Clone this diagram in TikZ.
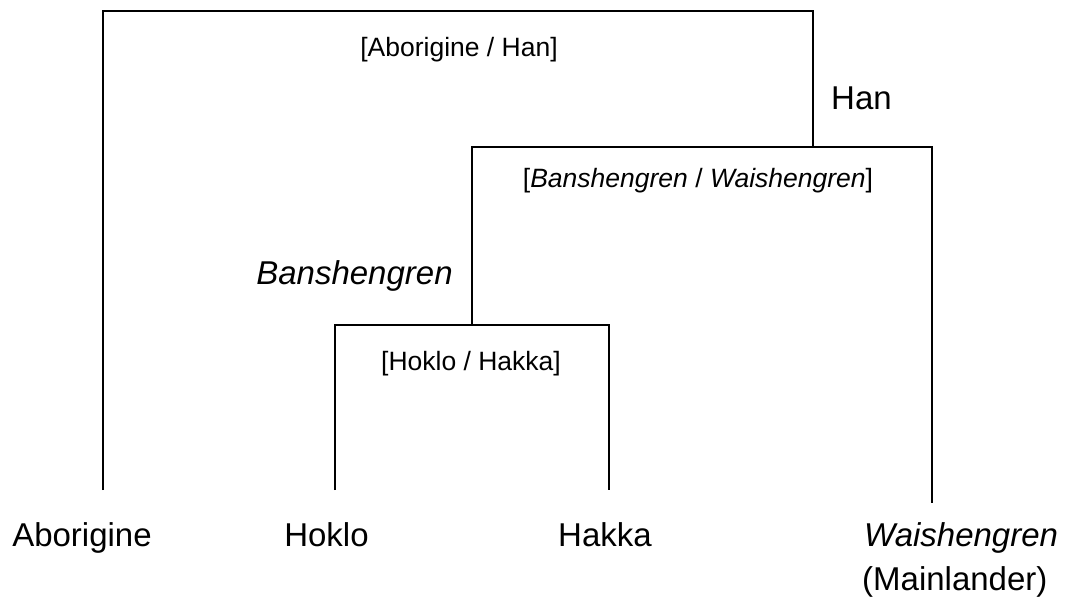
\documentclass[tikz,border=0pt]{standalone}
\usepackage{fontspec}
\setmainfont{Liberation Sans}
\begin{document}
\begin{tikzpicture}[x=1pt,y=-1pt,
  br/.style={line width=2pt},
  lab/.style={anchor=base,inner sep=0pt,font=\fontsize{26.5}{30}\selectfont},
  leaf/.style={anchor=base,inner sep=0pt,font=\fontsize{33}{38}\selectfont}]
\useasboundingbox (0,0) rectangle (1066,601);
% bracket corners
\coordinate (aL) at (103,490);
\coordinate (aTL) at (103,11);
\coordinate (aTR) at (813,11);
\coordinate (bTL) at (472,147);
\coordinate (bTR) at (932,147);
\coordinate (bR) at (932,503);
\coordinate (cTL) at (335,325);
\coordinate (cTR) at (609,325);
\coordinate (cL) at (335,490);
\coordinate (cR) at (609,490);
\coordinate (aR) at (813,147);
\coordinate (bL) at (472,325);
\draw[br] (aL) -- (aTL) -- (aTR) -- (aR);
\draw[br] (bL) -- (bTL) -- (bTR) -- (bR);
\draw[br] (cL) -- (cTL) -- (cTR) -- (cR);
% labels
\node[lab] (l1) at (459,56.5) {[Aborigine / Han]};
\node[leaf] (han) at (861.5,110) {Han};
\node[lab] (l2) at (698,188) {[\textit{Banshengren} / \textit{Waishengren}]};
\node[leaf] (ban) at (354.5,285) {\textit{Banshengren}};
\node[lab] (l3) at (471,370.5) {[Hoklo / Hakka]};
\node[leaf] (abo) at (82,546) {Aborigine};
\node[leaf] (hok) at (326.5,546) {Hoklo};
\node[leaf] (hak) at (605,546) {Hakka};
\node[leaf,anchor=base west] (wai) at (864,546) {\textit{Waishengren}};
\node[leaf,anchor=base west] (mai) at (862,590) {(Mainlander)};
\end{tikzpicture}
\end{document}
